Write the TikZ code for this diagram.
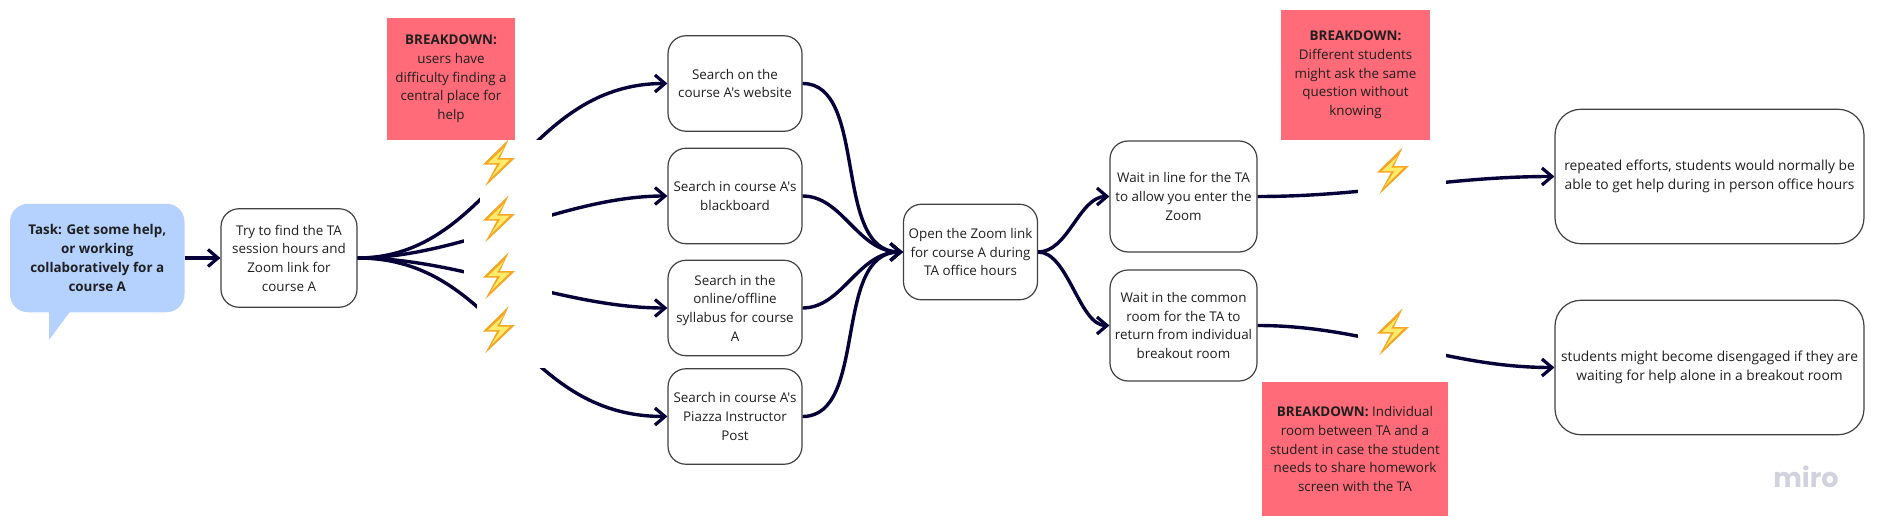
\documentclass[tikz,border=0pt]{standalone}
\usepackage{fontspec}
\usepackage{xcolor}
\setmainfont{Open Sans}[Ligatures=TeXOff]
\newfontfamily\logofont{Poppins}
\usetikzlibrary{calc,arrows.meta}
\definecolor{flowline}{HTML}{050038}
\definecolor{boxline}{HTML}{414141}
\definecolor{taskblue}{HTML}{B5D2FF}
\definecolor{breakred}{HTML}{FF6B78}
\definecolor{boltorange}{HTML}{F6A623}
\definecolor{boltyellow}{HTML}{FFEC6B}
\definecolor{logogray}{HTML}{D2D2DF}
\tikzset{
  bodytext/.style={font=\fontsize{13.4}{18.7}\selectfont,text=black!88,align=center,inner sep=0pt},
  flowbox/.style={bodytext,draw=boxline,line width=1.2pt,fill=white,rounded corners=18pt},
  searchbox/.style={flowbox,minimum width=134pt,minimum height=95.5pt},
  waitbox/.style={flowbox,minimum width=147pt,minimum height=111pt},
  resultbox/.style={flowbox,font=\fontsize{13.8}{18.7}\selectfont,rounded corners=26pt,minimum width=309pt,minimum height=134.5pt},
  redbox/.style={bodytext,fill=breakred},
  gapbox/.style={fill=white,inner sep=0pt},
  flow/.style={draw=flowline,line width=3.4pt,-{Straight Barb[length=10pt,width=17pt,line width=3.2pt]}},
  bolt/.pic={
    \fill[boltorange] (9.7,-23.7) -- (-16,1.5) -- (-2,1.5) -- (-13.7,23.3) -- (16,-5) -- (1,-5) -- cycle;
    \fill[boltyellow] (5,-15) -- (-11,0) -- (1.5,0) -- (-8,15) -- (11,-3.5) -- (-2,-3.5) -- cycle;
  }
}
\begin{document}
\begin{tikzpicture}[x=1pt,y=-1pt]
  \useasboundingbox (0,0) rectangle (1879,532);
  \fill[taskblue] (49,305) -- (49,340) -- (75,305) -- cycle;
  \node[bodytext,fill=taskblue,rounded corners=18pt,minimum width=174.5pt,minimum height=108.5pt,font=\fontsize{13.4}{18.7}\selectfont\bfseries] (task) at (97.25,258) {Task: Get some help,\\or working\\collaboratively for a\\course A};
  \node[flowbox,minimum width=136pt,minimum height=98.5pt] (tryfind) at (289,258) {Try to find the TA\\session hours and\\Zoom link for\\course A};
  \node[searchbox] (website) at (735,83.5) {Search on the\\course A's website};
  \node[searchbox] (blackboard) at (735,196) {Search in course A's\\blackboard};
  \node[searchbox] (syllabus) at (735,308) {Search in the\\online/offline\\syllabus for course\\A};
  \node[searchbox] (piazza) at (735,416.5) {Search in course A's\\Piazza Instructor\\Post};
  \node[searchbox] (openzoom) at (970.5,252) {Open the Zoom link\\for course A during\\TA office hours};
  \node[waitbox] (waitline) at (1183.5,196.5) {Wait in line for the TA\\to allow you enter the\\Zoom};
  \node[waitbox] (waitroom) at (1183.5,325.5) {Wait in the common\\room for the TA to\\return from individual\\breakout room};
  \node[resultbox] (repeated) at (1709.5,176.5) {repeated efforts, students would normally be\\able to get help during in person office hours};
  \node[resultbox] (disengaged) at (1709.5,367.5) {students might become disengaged if they are\\waiting for help alone in a breakout room};
  \node[redbox,minimum width=128pt,minimum height=122.5pt] (breakhelp) at (451,79) {\textbf{BREAKDOWN:}\\users have\\difficulty finding a\\central place for\\help};
  \node[redbox,minimum width=149pt,minimum height=130pt] (breaksame) at (1355.5,75) {\textbf{BREAKDOWN:}\\Different students\\might ask the same\\question without\\knowing};
  \node[redbox,minimum width=186pt,minimum height=134pt] (breakroom) at (1355,449) {\textbf{BREAKDOWN:} Individual\\room between TA and a\\student in case the student\\needs to share homework\\screen with the TA};
  \node[font=\logofont\bfseries\fontsize{27}{27}\selectfont,text=logogray,inner sep=0pt] (logo) at (1806,477) {miro};

  \draw[flow] (task.east) -- (tryfind.west);
  \draw[flow] (tryfind.east) .. controls +(137,0) and +(-147,0) .. (website.west);
  \draw[flow] (tryfind.east) .. controls +(103,0) and +(-104,0) .. (blackboard.west);
  \draw[flow] (tryfind.east) .. controls +(103,0) and +(-104,0) .. (syllabus.west);
  \draw[flow] (tryfind.east) .. controls +(143,0) and +(-150,0) .. (piazza.west);
  \draw[flow] (website.east) .. controls +(66,0) and +(-71,0) .. (openzoom.west);
  \draw[flow] (blackboard.east) .. controls +(40,0) and +(-45,0) .. (openzoom.west);
  \draw[flow] (syllabus.east) .. controls +(40,0) and +(-45,0) .. (openzoom.west);
  \draw[flow] (piazza.east) .. controls +(66,0) and +(-71,0) .. (openzoom.west);
  \draw[flow] (openzoom.east) .. controls +(30,0) and +(-30,0) .. (waitline.west);
  \draw[flow] (openzoom.east) .. controls +(30,0) and +(-30,0) .. (waitroom.west);
  \draw[flow] (waitline.east) .. controls +(110,0) and +(-110,0) .. (repeated.west);
  \draw[flow] (waitroom.east) .. controls +(110,0) and +(-110,0) .. (disengaged.west);

  \node[gapbox,minimum width=72pt,minimum height=84pt] (gapa) at (516,182) {};
  \node[gapbox,minimum width=88pt,minimum height=70pt] (gapb) at (508,257) {};
  \node[gapbox,minimum width=75pt,minimum height=78pt] (gapc) at (514.5,329) {};
  \node[gapbox,minimum width=88pt,minimum height=50pt] (gape) at (1401.75,175) {};
  \node[gapbox,minimum width=88pt,minimum height=50pt] (gapf) at (1401.75,339) {};
  \foreach \yy in {163,219,276,330}{\pic at (499,\yy) {bolt};}
  \pic at (1393,171) {bolt};
  \pic at (1393,332) {bolt};
\end{tikzpicture}
\end{document}
